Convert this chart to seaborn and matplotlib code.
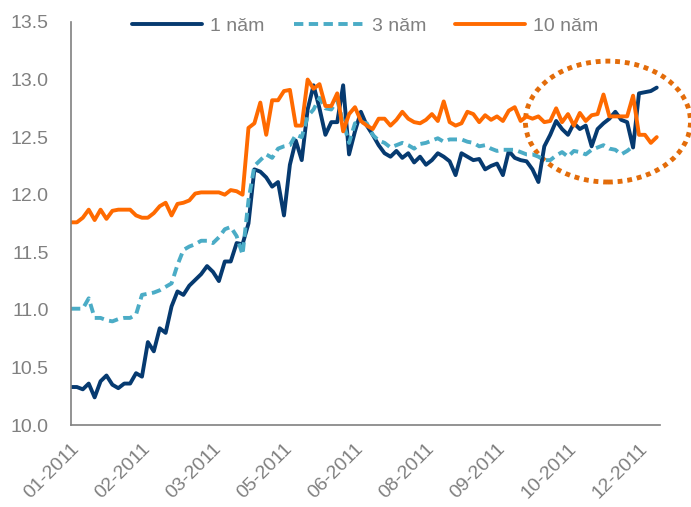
import matplotlib
matplotlib.use("Agg")
import matplotlib.pyplot as plt
from matplotlib.patches import Ellipse
import numpy as np
import pandas as pd
import seaborn as sns

# tick labels on the category axis (one every 12 points)
tick_labels = ["01-2011", "02-2011", "03-2011", "05-2011", "06-2011",
               "08-2011", "09-2011", "10-2011", "12-2011"]
tick_step = 12

# yields (%)
y1 = [10.33, 10.33, 10.31, 10.36, 10.24, 10.38, 10.43, 10.35, 10.32, 10.36,
      10.36, 10.45, 10.42, 10.72, 10.64, 10.84, 10.80, 11.03, 11.16, 11.13,
      11.21, 11.26, 11.31, 11.38, 11.33, 11.25, 11.42, 11.42, 11.58, 11.57,
      11.75, 12.22, 12.20, 12.15, 12.07, 12.11, 11.82, 12.26, 12.47, 12.30,
      12.74, 12.95, 12.75, 12.52, 12.63, 12.63, 12.95, 12.35, 12.55, 12.72,
      12.60, 12.52, 12.43, 12.36, 12.33, 12.38, 12.32, 12.36, 12.28, 12.33,
      12.26, 12.30, 12.36, 12.33, 12.29, 12.17, 12.36, 12.33, 12.30, 12.31,
      12.22, 12.25, 12.27, 12.17, 12.38, 12.32, 12.30, 12.29, 12.22, 12.11,
      12.42, 12.52, 12.64, 12.57, 12.52, 12.62, 12.57, 12.60, 12.42, 12.57,
      12.62, 12.66, 12.72, 12.65, 12.63, 12.41, 12.88, 12.89, 12.90, 12.93]

y3 = [11.01, 11.01, 11.01, 11.10, 10.93, 10.93, 10.91, 10.90, 10.92, 10.93,
      10.93, 10.96, 11.13, 11.14, 11.15, 11.17, 11.20, 11.23, 11.39, 11.52,
      11.55, 11.57, 11.60, 11.60, 11.58, 11.63, 11.70, 11.72, 11.64, 11.48,
      11.95, 12.25, 12.30, 12.35, 12.32, 12.40, 12.42, 12.43, 12.52, 12.50,
      12.68, 12.74, 12.84, 12.75, 12.74, 12.82, 12.63, 12.45, 12.62, 12.63,
      12.62, 12.52, 12.47, 12.45, 12.41, 12.43, 12.45, 12.43, 12.40, 12.44,
      12.45, 12.47, 12.49, 12.46, 12.48, 12.48, 12.48, 12.46, 12.45, 12.42,
      12.43, 12.40, 12.38, 12.39, 12.39, 12.39, 12.37, 12.35, 12.35, 12.33,
      12.30, 12.30, 12.34, 12.37, 12.33, 12.38, 12.37, 12.35, 12.39, 12.41,
      12.43, 12.40, 12.39, 12.35, 12.38, 12.42, np.nan, np.nan, np.nan, np.nan]

y10 = [11.76, 11.76, 11.80, 11.87, 11.78, 11.87, 11.79, 11.86, 11.87, 11.87,
       11.87, 11.82, 11.80, 11.80, 11.84, 11.90, 11.93, 11.82, 11.92, 11.93,
       11.95, 12.01, 12.02, 12.02, 12.02, 12.02, 12.00, 12.04, 12.03, 12.00,
       12.58, 12.62, 12.80, 12.52, 12.82, 12.82, 12.90, 12.91, 12.60, 12.60,
       13.00, 12.92, 12.96, 12.77, 12.77, 12.88, 12.55, 12.70, 12.76, 12.64,
       12.60, 12.57, 12.66, 12.66, 12.60, 12.65, 12.72, 12.66, 12.63, 12.62,
       12.65, 12.70, 12.64, 12.81, 12.63, 12.60, 12.62, 12.72, 12.70, 12.63,
       12.69, 12.65, 12.68, 12.64, 12.73, 12.76, 12.64, 12.68, 12.66, 12.68,
       12.63, 12.64, 12.75, 12.63, 12.70, 12.60, 12.71, 12.64, 12.69, 12.70,
       12.87, 12.68, 12.68, 12.68, 12.68, 12.86, 12.52, 12.52, 12.45, 12.50]

idx = np.arange(len(y1))
df = pd.DataFrame({"idx": idx, "1 năm": y1, "3 năm": y3, "10 năm": y10})

sns.set_style("white")
plt.rcParams["font.family"] = ["Liberation Sans", "DejaVu Sans"]
grey = "#808080"

fig = plt.figure(figsize=(6.91, 5.07), dpi=100)
ax = fig.add_axes([0.1027, 0.1617, 0.852, 0.795])

sns.lineplot(data=df, x="idx", y="1 năm", ax=ax, color="#063A70", lw=2.8, label="1 năm")
sns.lineplot(data=df, x="idx", y="3 năm", ax=ax, color="#4BACC6", lw=2.8,
             ls=(0, (2.4, 1.4)), label="3 năm")
sns.lineplot(data=df, x="idx", y="10 năm", ax=ax, color="#FF6A00", lw=2.8, label="10 năm")

# dotted ellipse highlight
ell = Ellipse((90.75, 12.635), 27.9, 1.05, fill=False, ec="#E36C0A", lw=3.5,
              ls=(0, (1, 1)), clip_on=False)
ax.add_patch(ell)

ax.set_xlim(0, 99.5)
ax.set_ylim(10, 13.5)
ax.set_yticks(np.arange(10, 13.51, 0.5))
ax.set_yticklabels([f"{v:.1f}" for v in np.arange(10, 13.51, 0.5)])
ax.set_xticks(np.arange(len(tick_labels)) * tick_step)
ax.set_xticklabels(tick_labels, rotation=45, ha="right", rotation_mode="anchor")
ax.tick_params(axis="both", length=0, labelsize=14, colors=grey)
ax.tick_params(axis="y", pad=16)
ax.tick_params(axis="x", pad=11)
ax.set_xlabel("")
ax.set_ylabel("")

sns.despine(ax=ax)
for s in ["left", "bottom"]:
    ax.spines[s].set_color(grey)
    ax.spines[s].set_linewidth(1.2)

leg = ax.legend(loc="upper center", bbox_to_anchor=(0.5, 1.055), ncol=3, frameon=False,
                fontsize=14, handlelength=3.6, handletextpad=0.4, columnspacing=1.5)
for t in leg.get_texts():
    t.set_color(grey)

fig.savefig("out.png", dpi=100)
